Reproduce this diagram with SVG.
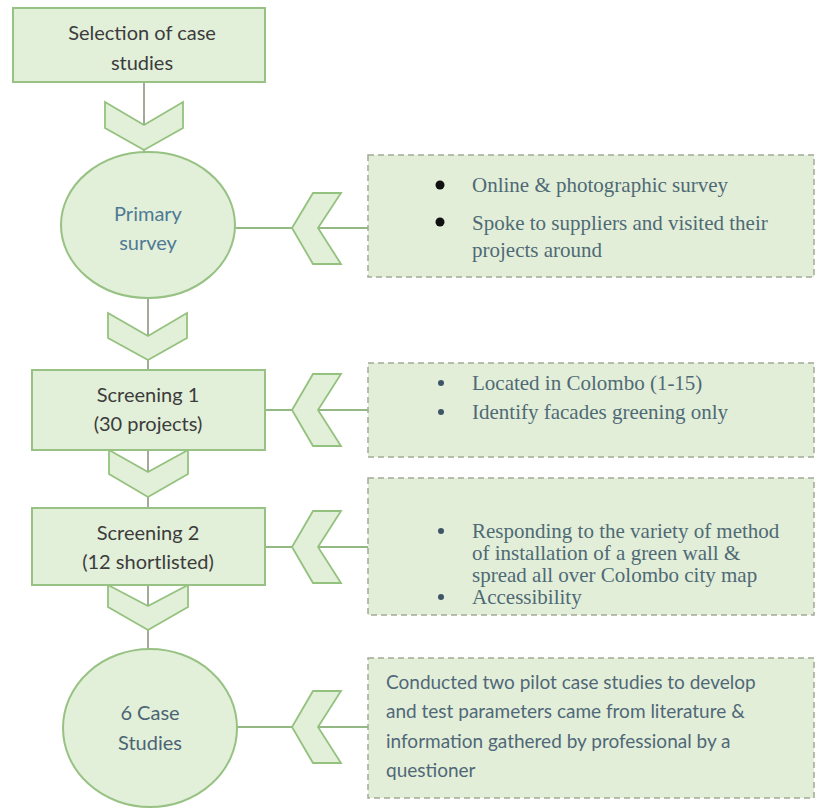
<svg xmlns="http://www.w3.org/2000/svg" width="817" height="808" viewBox="0 0 817 808">
<defs>
<style>
.node{fill:#e2efd9;stroke:#97c283;stroke-width:2}
.note{fill:#e3eed9;stroke:#a3ab97;stroke-width:1.5;stroke-dasharray:6 4}
.chev{fill:#e2efd9;stroke:#94c27e;stroke-width:1.8;stroke-linejoin:miter}
.vline{stroke:#a3aa9a;stroke-width:2;fill:none}
.hline{stroke:#94b884;stroke-width:2;fill:none}
.sans{font-family:Lato,"Open Sans","Liberation Sans",sans-serif;font-size:20px;text-anchor:middle}
.dark{fill:#3c3c3c}
.blue{fill:#4f7a94}
.slate{fill:#4b6474}
.serif{font-family:"Liberation Serif","Times New Roman",serif;font-size:21px;fill:#4e6a75}
.body{font-family:Lato,"Open Sans","Liberation Sans",sans-serif;font-size:19px;fill:#4f6878}
.dot{fill:#111}
.dot2{fill:#3d5566}
</style>
</defs>
<rect width="817" height="808" fill="#ffffff"/>

<g id="connectors">
<line class="vline" x1="144" y1="82" x2="144" y2="125"/>
<line class="vline" x1="144" y1="150" x2="144" y2="153"/>
<line class="vline" x1="148" y1="298" x2="148" y2="336"/>
<line class="vline" x1="148" y1="360" x2="148" y2="370"/>
<line class="vline" x1="148" y1="450" x2="148" y2="472"/>
<line class="vline" x1="148" y1="497" x2="148" y2="508"/>
<line class="vline" x1="148" y1="585" x2="148" y2="606"/>
<line class="vline" x1="148" y1="630" x2="148" y2="649"/>
<polygon class="chev" points="105,102 144,125 183,102 183,128 144,150 105,128"/>
<polygon class="chev" points="108,313 148,336 187,313 187,338 148,360 108,338"/>
<polygon class="chev" points="109,450 148,472 188,450 188,474 148,497 109,474"/>
<polygon class="chev" points="108,585 148,606 188,585 188,607 148,630 108,607"/>

<line class="hline" x1="235" y1="228" x2="292" y2="228"/>
<line class="hline" x1="318" y1="228" x2="368" y2="228"/>
<line class="hline" x1="265" y1="410" x2="292" y2="410"/>
<line class="hline" x1="318" y1="410" x2="368" y2="410"/>
<line class="hline" x1="265" y1="547" x2="292" y2="547"/>
<line class="hline" x1="318" y1="547" x2="368" y2="547"/>
<line class="hline" x1="237" y1="727" x2="292" y2="727"/>
<line class="hline" x1="318" y1="727" x2="368" y2="727"/>
<polygon class="chev" points="313,193 341,193 318,228 341,264 313,264 292,228"/>
<polygon class="chev" points="313,374 341,374 318,410 341,446 313,446 292,410"/>
<polygon class="chev" points="313,511 341,511 318,547 341,583 313,583 292,547"/>
<polygon class="chev" points="313,691 341,691 318,727 341,763 313,763 292,727"/>
</g>

<g id="selection">
<rect class="node" x="13" y="8" width="252" height="74"/>
<text class="sans dark" x="142" y="40">Selection of case</text>
<text class="sans dark" x="142" y="70">studies</text>
</g>

<g id="primary-survey">
<ellipse class="node" cx="148" cy="225" rx="87" ry="73"/>
<text class="sans blue" x="148" y="221">Primary</text>
<text class="sans blue" x="148" y="250">survey</text>
</g>

<g id="screening-1">
<rect class="node" x="32" y="370" width="233" height="80"/>
<text class="sans dark" x="148" y="402">Screening 1</text>
<text class="sans dark" x="148" y="431">(30 projects)</text>
</g>

<g id="screening-2">
<rect class="node" x="32" y="508" width="233" height="77"/>
<text class="sans dark" x="148" y="540">Screening 2</text>
<text class="sans dark" x="148" y="569">(12 shortlisted)</text>
</g>

<g id="case-studies">
<ellipse class="node" cx="150" cy="728" rx="87" ry="79"/>
<text class="sans slate" x="150" y="720">6 Case</text>
<text class="sans slate" x="150" y="750">Studies</text>
</g>

<g id="note-primary">
<rect class="note" x="368" y="155" width="446" height="122"/>
<circle class="dot" cx="440" cy="185" r="4.5"/>
<circle class="dot" cx="440" cy="222" r="4.5"/>
<text class="serif" x="472" y="192">Online &amp; photographic survey</text>
<text class="serif" x="472" y="230">Spoke to suppliers and visited their</text>
<text class="serif" x="472" y="257">projects around</text>
</g>

<g id="note-screening-1">
<rect class="note" x="368" y="363" width="446" height="94"/>
<circle class="dot2" cx="441" cy="383" r="3"/>
<circle class="dot2" cx="441" cy="412" r="3"/>
<text class="serif" x="472" y="390">Located in Colombo (1-15)</text>
<text class="serif" x="472" y="419">Identify facades greening only</text>
</g>

<g id="note-screening-2">
<rect class="note" x="368" y="478" width="446" height="137"/>
<circle class="dot2" cx="441" cy="531" r="3"/>
<circle class="dot2" cx="441" cy="597" r="3"/>
<text class="serif" x="472" y="538">Responding to the variety of method</text>
<text class="serif" x="472" y="560">of installation of a green wall &amp;</text>
<text class="serif" x="472" y="582">spread all over Colombo city map</text>
<text class="serif" x="472" y="604">Accessibility</text>
</g>

<g id="note-case-studies">
<rect class="note" x="368" y="658" width="446" height="140"/>
<text class="body" x="386" y="689">Conducted two pilot case studies to develop</text>
<text class="body" x="386" y="718">and test parameters came from literature &amp;</text>
<text class="body" x="386" y="748">information gathered by professional by a</text>
<text class="body" x="386" y="777">questioner</text>
</g>
</svg>
